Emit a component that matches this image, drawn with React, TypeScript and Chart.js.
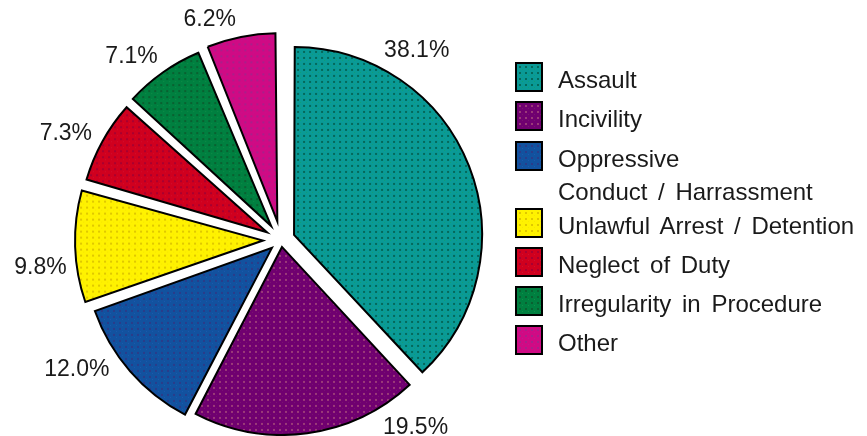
import React, { useEffect, useRef, useMemo } from 'react';
import { Chart, registerables } from 'chart.js';

Chart.register(...registerables);

// ---- data ----
const CATEGORIES = [
  'Assault',
  'Incivility',
  'Oppressive Conduct / Harrassment',
  'Unlawful Arrest / Detention',
  'Neglect of Duty',
  'Irregularity in Procedure',
  'Other',
];
const LEGEND_LINES = [
  ['Assault'],
  ['Incivility'],
  ['Oppressive', 'Conduct / Harrassment'],
  ['Unlawful Arrest / Detention'],
  ['Neglect of Duty'],
  ['Irregularity in Procedure'],
  ['Other'],
];
const VALUES = [38.1, 19.5, 12.0, 9.8, 7.3, 7.1, 6.2];

// ---- styles ----
const COLORS = ['#0a9a96', '#700070', '#12529f', '#fff200', '#d0001e', '#008040', '#d00a84'];
const DOT_COLORS = ['#05685a', '#9a3a78', '#2a3c8a', '#e0c800', '#a80030', '#0a6030', '#a8208a'];
const DOT2_COLORS = ['#10a070', '#7a1470', '#1a5ab0', '#f8e800', '#d01030', '#109048', '#c01890'];
const EXPLODE = [14, 7, 12, 18, 16, 17, 19]; // px each slice is pulled out
const LABEL_FRAC = [0.244, 0.088, 0.715, 0.363, 0.4, 0.336, 0.175]; // where along each slice its label sits
const RADIUS = 188;
const FONT = '"Liberation Sans", Arial, sans-serif';

function makeTile(base: string, dot: string, dot2: string) {
  const c = document.createElement('canvas');
  c.width = 6;
  c.height = 6;
  const g = c.getContext('2d')!;
  g.fillStyle = base;
  g.fillRect(0, 0, 6, 6);
  g.fillStyle = dot;
  g.fillRect(2, 2, 2, 2);
  g.fillStyle = dot2;
  g.fillRect(5, 5, 1, 1);
  return c;
}

const radiusFix = {
  id: 'radiusFix',
  afterDatasetsUpdate(chart: any) {
    const meta = chart.getDatasetMeta(0);
    meta.data.forEach((arc: any, i: number) => {
      const circ = arc.endAngle - arc.startAngle;
      const fix = 1 - Math.sin(Math.min(Math.PI, circ));
      arc.outerRadius = RADIUS - EXPLODE[i] * fix;
    });
  },
};

const pctLabels = {
  id: 'pctLabels',
  afterDatasetsDraw(chart: any) {
    const ctx = chart.ctx;
    const meta = chart.getDatasetMeta(0);
    ctx.save();
    ctx.font = `23px ${FONT}`;
    ctx.fillStyle = '#1a1a1a';
    ctx.textAlign = 'center';
    ctx.textBaseline = 'middle';
    meta.data.forEach((arc: any, i: number) => {
      const mid = (arc.startAngle + arc.endAngle) / 2;
      const d = EXPLODE[i];
      const cx = arc.x + Math.cos(mid) * d;
      const cy = arc.y + Math.sin(mid) * d;
      const a = arc.startAngle + LABEL_FRAC[i] * (arc.endAngle - arc.startAngle);
      const text = VALUES[i].toFixed(1) + '%';
      const hw = ctx.measureText(text).width / 2;
      const hh = 9;
      const dist = RADIUS + 9 + Math.abs(Math.cos(a)) * hw + Math.abs(Math.sin(a)) * hh;
      ctx.fillText(text, cx + Math.cos(a) * dist, cy + Math.sin(a) * dist + 1);
    });
    ctx.restore();
  },
};

export default function App() {
  const ref = useRef<HTMLCanvasElement>(null);
  const tiles = useMemo(() => COLORS.map((c, i) => makeTile(c, DOT_COLORS[i], DOT2_COLORS[i])), []);
  const tileUrls = useMemo(() => tiles.map((t) => t.toDataURL()), [tiles]);

  useEffect(() => {
    const canvas = ref.current!;
    const ctx = canvas.getContext('2d')!;
    const patterns = tiles.map((t) => ctx.createPattern(t, 'repeat'));
    const chart = new Chart(canvas, {
      type: 'pie',
      data: {
        labels: CATEGORIES,
        datasets: [
          {
            data: VALUES,
            backgroundColor: patterns as any,
            borderColor: '#000',
            borderWidth: 2,
            borderJoinStyle: 'miter',
            offset: EXPLODE.map((e) => e * 4),
          } as any,
        ],
      },
      options: {
        responsive: false,
        animation: false,
        devicePixelRatio: 1,
        events: [],
        radius: RADIUS,
        layout: { padding: { left: 0, right: 305, top: 44, bottom: 0 } },
        plugins: { legend: { display: false }, tooltip: { enabled: false } },
      } as any,
      plugins: [radiusFix, pctLabels],
    });
    return () => chart.destroy();
  }, [tiles]);

  return (
    <div style={{ position: 'absolute', left: 0, top: 0, width: 867, height: 436, background: '#fff' }}>
      <canvas ref={ref} width={867} height={436} style={{ position: 'absolute', left: 0, top: 0 }} />
      <div
        style={{
          position: 'absolute',
          left: 515,
          top: 62,
          fontFamily: FONT,
          fontSize: 24,
          color: '#1a1a1a',
          wordSpacing: 4,
        }}
      >
        {LEGEND_LINES.map((lines, i) => (
          <div
            key={i}
            style={{ display: 'flex', alignItems: 'flex-start', height: lines.length > 1 ? 67 : 39.3 }}
          >
            <div
              style={{
                width: 28,
                height: 30,
                boxSizing: 'border-box',
                border: '2px solid #000',
                backgroundImage: `url(${tileUrls[i]})`,
                flex: 'none',
              }}
            />
            <div style={{ marginLeft: 15, lineHeight: '33px', marginTop: 1, whiteSpace: 'nowrap' }}>
              {lines.map((l, j) => (
                <div key={j}>{l}</div>
              ))}
            </div>
          </div>
        ))}
      </div>
    </div>
  );
}
